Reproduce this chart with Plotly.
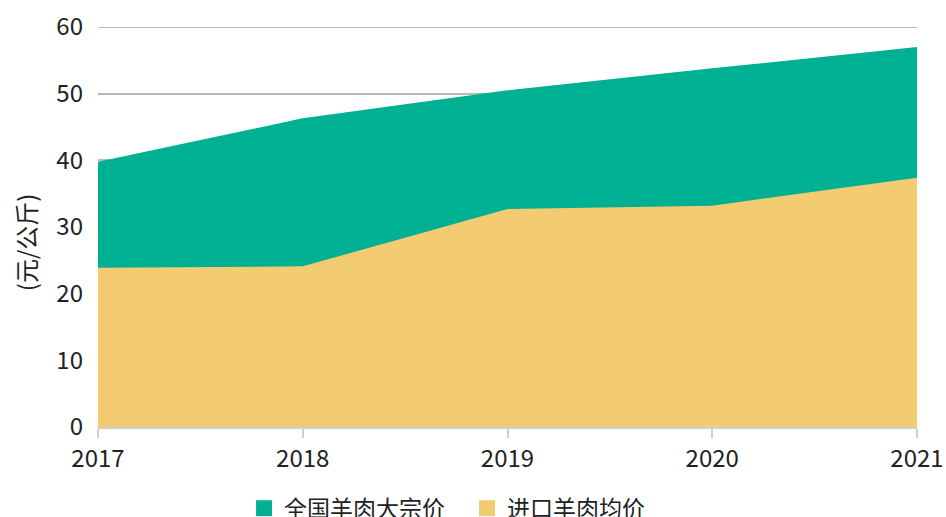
import plotly.graph_objects as go

years = [2017, 2018, 2019, 2020, 2021]
national_price = [39.8, 46.3, 50.5, 53.8, 57.0]
import_price = [23.9, 24.1, 32.7, 33.2, 37.4]
series_names = ["全国羊肉大宗价", "进口羊肉均价"]
colors = ["#00B092", "#F3CB71"]
y_ticks = [0, 10, 20, 30, 40, 50, 60]
y_title = "(元/公斤)"

FONT = "Noto Sans CJK SC"
fig = go.Figure()
for vals, name, col in zip([national_price, import_price], series_names, colors):
    fig.add_trace(go.Scatter(x=years, y=vals, name=name, mode="none",
                             fill="tozeroy", fillcolor=col, showlegend=False,
                             hoverinfo="x+y+name"))
for name, col in zip(series_names, colors):
    fig.add_trace(go.Scatter(x=[None], y=[None], name=name, mode="markers",
                             marker=dict(symbol="square", size=16, color=col)))

# top gridline (the edge gridline is clipped by plotly)
fig.add_shape(type="line", xref="paper", x0=0, x1=1, yref="y", y0=y_ticks[-1], y1=y_ticks[-1],
              line=dict(color="#b8b8b8", width=2), layer="below")

# y-axis title as rotated annotation (placed slightly below centre, as in the reference)
fig.add_annotation(text=y_title, xref="paper", yref="paper", x=-0.0891, y=0.462,
                   xanchor="center", yanchor="middle", textangle=-90, showarrow=False,
                   font=dict(size=24, color="#222", family=FONT))

fig.update_layout(
    width=946, height=517,
    margin=dict(l=98, r=29, t=27, b=90, autoexpand=False),
    paper_bgcolor="white", plot_bgcolor="white",
    font=dict(family=FONT, size=24, color="#222"),
    showlegend=True,
    legend=dict(orientation="h", xref="container", yref="container",
                x=0.258, xanchor="left", y=0.017, yanchor="middle",
                font=dict(size=23, color="#222"), itemwidth=30, entrywidth=178,
                traceorder="normal", bgcolor="rgba(0,0,0,0)"),
    xaxis=dict(range=[2017, 2021], tickvals=years, ticktext=[str(y) for y in years],
               showgrid=False, showline=True, linecolor="#d0d0d0", linewidth=2,
               ticks="outside", ticklen=9, tickwidth=2, tickcolor="#d0d0d0",
               tickfont=dict(size=24), zeroline=False, automargin=False),
    yaxis=dict(range=[0, 60], tickvals=y_ticks,
               showgrid=True, gridcolor="#b8b8b8", gridwidth=2, zeroline=False,
               showline=False, ticks="", ticklabelstandoff=14,
               tickfont=dict(size=24), automargin=False),
)
fig.write_html("out.html", config={"displayModeBar": False},
               post_script="document.body.style.margin='0';document.body.style.overflow='hidden';")
